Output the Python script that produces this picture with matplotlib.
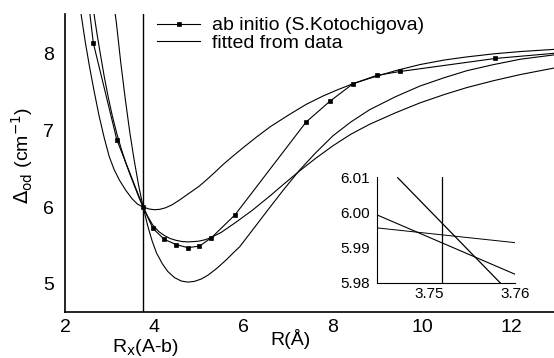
import numpy as np
import matplotlib
matplotlib.use('Agg')
import matplotlib.pyplot as plt

plt.rcParams['font.family'] = ['Liberation Sans', 'DejaVu Sans']

# ab initio points, R in Angstrom, Delta_od in cm^-1 (first and last lie outside the frame)
r_abinitio = [2.40, 2.635, 3.16, 3.75, 3.97, 4.22, 4.49, 4.75, 5.01, 5.28, 5.81,
              7.40, 7.93, 8.45, 8.99, 9.51, 11.64, 13.8]
d_abinitio = [9.30, 8.14, 6.88, 6.00, 5.72, 5.58, 5.51, 5.47, 5.49, 5.60, 5.90,
              7.11, 7.38, 7.61, 7.72, 7.77, 7.94, 8.05]

# fitted curves
# A: shallow well (min ~5.97)
r_fit_a = [2.30, 2.36, 2.45, 2.55, 2.65, 2.76, 2.88, 2.99, 3.10, 3.22, 3.36, 3.50,
           3.62, 3.75, 3.88, 4.00, 4.12, 4.25, 4.40, 4.56, 4.78, 5.00, 5.16, 5.35,
           5.53, 5.75, 6.00, 6.28, 6.60, 7.03, 7.40, 7.78, 8.10, 8.45, 8.82, 9.40,
           9.95, 10.5, 11.0, 11.6, 12.2, 13.0]
d_fit_a = [8.75, 8.52, 8.17, 7.83, 7.52, 7.20, 6.90, 6.66, 6.49, 6.35, 6.22, 6.11,
           6.04, 6.00, 5.975, 5.965, 5.97, 5.99, 6.03, 6.09, 6.18, 6.27, 6.35, 6.45,
           6.55, 6.66, 6.78, 6.91, 7.05, 7.21, 7.34, 7.45, 7.53, 7.61, 7.68, 7.78,
           7.86, 7.92, 7.96, 8.00, 8.03, 8.06]

# B: middle well (min ~5.55)
r_fit_b = [2.58, 2.65, 2.72, 2.80, 2.88, 2.97, 3.06, 3.16, 3.26, 3.36, 3.46, 3.56,
           3.66, 3.75, 3.85, 3.96, 4.10, 4.22, 4.35, 4.49, 4.62, 4.75, 4.90, 5.00,
           5.15, 5.28, 5.50, 5.80, 6.20, 6.60, 6.90, 7.25, 7.60, 8.00, 8.40, 8.82,
           9.40, 9.95, 10.5, 11.0, 11.6, 12.2, 13.0]
d_fit_b = [8.80, 8.52, 8.25, 7.97, 7.70, 7.43, 7.19, 6.96, 6.76, 6.58, 6.42, 6.27,
           6.12, 6.00, 5.88, 5.77, 5.68, 5.63, 5.59, 5.565, 5.55, 5.545, 5.55, 5.555,
           5.575, 5.605, 5.67, 5.79, 5.96, 6.15, 6.30, 6.47, 6.63, 6.80, 6.95, 7.08,
           7.23, 7.36, 7.47, 7.56, 7.65, 7.73, 7.82]

# C: deep well (min ~5.02)
r_fit_c = [3.10, 3.15, 3.25, 3.35, 3.45, 3.55, 3.65, 3.75, 3.85, 3.95, 4.05, 4.18,
           4.30, 4.45, 4.60, 4.75, 4.90, 5.05, 5.20, 5.40, 5.61, 5.80, 5.91, 6.20,
           6.54, 6.90, 7.25, 7.60, 8.00, 8.40, 8.82, 9.40, 9.95, 10.5, 11.0, 11.6,
           12.2, 13.0]
d_fit_c = [8.62, 8.41, 7.88, 7.41, 6.98, 6.61, 6.28, 6.00, 5.76, 5.56, 5.40, 5.26,
           5.16, 5.08, 5.035, 5.02, 5.03, 5.06, 5.11, 5.20, 5.31, 5.42, 5.48, 5.70,
           5.96, 6.23, 6.48, 6.70, 6.93, 7.11, 7.27, 7.44, 7.58, 7.69, 7.78, 7.86,
           7.93, 7.99]

rx = 3.7515

# zoom near the crossing
r_in_a = [3.744, 3.760]
d_in_a = [5.9957, 5.9915]
r_in_b = [3.744, 3.760]
d_in_b = [5.9994, 5.9825]
r_in_c = [3.7464, 3.7583]
d_in_c = [6.0100, 5.9800]

fig = plt.figure(figsize=(5.54, 3.58), dpi=100)
ax = fig.add_axes([0.1173, 0.1285, 0.8827, 0.8324])

ax.plot(r_fit_a, d_fit_a, color='black', lw=0.8, label='fitted from data')
ax.plot(r_fit_b, d_fit_b, color='black', lw=0.8)
ax.plot(r_fit_c, d_fit_c, color='black', lw=0.8)
ax.plot(r_abinitio, d_abinitio, color='black', lw=0.8, marker='s', ms=3, mew=0.5,
        label='ab initio (S.Kotochigova)')
ax.axvline(rx, color='black', lw=1.0)

ax.set_xlim(2, 12.95)
ax.set_ylim(4.63, 8.52)
ax.set_xticks([2, 4, 6, 8, 10, 12])
ax.set_yticks([5, 6, 7, 8])
ax.tick_params(axis='x', length=0, pad=5, labelsize=14)
ax.tick_params(axis='y', length=0, pad=8, labelsize=14)
ax.spines['right'].set_visible(False)
ax.spines['top'].set_visible(False)
ax.spines['left'].set_linewidth(1.2)
ax.spines['bottom'].set_linewidth(1.2)

handles, labels = ax.get_legend_handles_labels()
leg = ax.legend(handles[::-1], labels[::-1], loc='upper left', bbox_to_anchor=(0.165, 1.03),
                frameon=False, fontsize=14, handlelength=2.2, handletextpad=0.6,
                labelspacing=0.0, numpoints=1, borderaxespad=0.2)
leg.legend_handles[0].set_markersize(2.2)

fig.text(0.04, 0.565, r'$\Delta_{\rm od}$ (cm$^{-1}$)', rotation=90,
         ha='center', va='center', fontsize=14)
fig.text(290 / 554, 1 - 339 / 358, 'R(Å)', ha='center', va='center', fontsize=14)
fig.text(146 / 554, 1 - 347 / 358, r'R$_{\rm x}$(A-b)', ha='center', va='center', fontsize=14)

ins = fig.add_axes([0.6805, 0.2095, 0.2491, 0.2961])
ins.plot(r_in_a, d_in_a, color='black', lw=0.7)
ins.plot(r_in_b, d_in_b, color='black', lw=0.8)
ins.plot(r_in_c, d_in_c, color='black', lw=0.9)
ins.axvline(rx, color='black', lw=0.9)
ins.set_xlim(3.744, 3.760)
ins.set_ylim(5.98, 6.0102)
ins.set_xticks([3.75, 3.76])
ins.set_xticklabels(['3.75', '3.76'])
ins.set_yticks([5.98, 5.99, 6.00, 6.01])
ins.set_yticklabels(['5.98', '5.99', '6.00', '6.01'])
ins.tick_params(length=0, labelsize=11)
ins.tick_params(axis='y', pad=5)
ins.tick_params(axis='x', pad=3)
ins.spines['right'].set_visible(False)
ins.spines['top'].set_visible(False)
ins.patch.set_alpha(0)

fig.savefig('out.png', dpi=100)
